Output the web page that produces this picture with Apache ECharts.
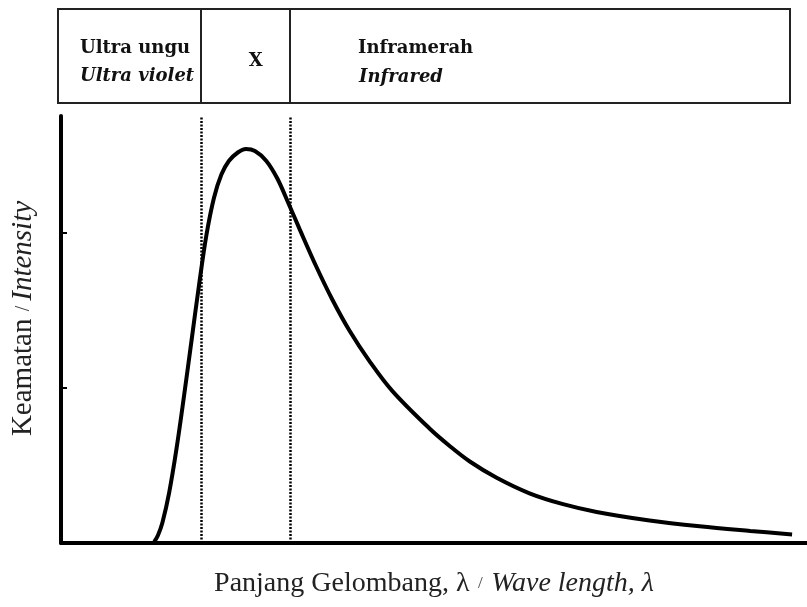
<!DOCTYPE html>
<html>
<head>
<meta charset="utf-8">
<script src="https://cdn.jsdelivr.net/npm/echarts@6/dist/echarts.min.js"></script>
<style>html,body{margin:0;padding:0;background:#fff}#c{width:807px;height:607px}</style>
</head>
<body>
<div id="c"></div>
<script>
// Wavelength (arbitrary units) and intensity (arbitrary units)
const wavelength = [125,130,136,145,155,165,175,185,195,205,215,225,237,248,260,275,290,306,320,342,364,387,413,444,494,521,548,584,628,673,718,789,856,924,980];
const intensity  = [0.3,2.0,5.3,13.0,24.5,38.0,52.2,66.4,79.4,88.9,94.9,98.4,100.6,101.5,101.0,98.5,93.9,87.0,80.8,71.3,62.6,54.6,47.0,39.2,29.5,25.0,21.0,16.8,12.8,10.0,8.0,5.8,4.3,3.1,2.2];
// Region boundaries (UV | X | IR)
const boundaries = [188, 307];
const yTicks = [40, 80];
const regionLabels = ['Ultra ungu', 'Ultra violet', 'X', 'Inframerah', 'Infrared'];

const chart = echarts.init(document.getElementById('c'), null, {renderer: 'canvas'});
const serif = 'DejaVu Serif';
const titleFont = 'Liberation Serif';

chart.setOption({
  animation: false,
  backgroundColor: '#fff',
  grid: {left: 61, right: 0, top: 116, bottom: 64, containLabel: false, outerBoundsMode: 'none'},
  xAxis: {
    type: 'value', min: 0, max: 1000,
    axisLine: {show: true, lineStyle: {color: '#000', width: 4}},
    axisTick: {show: false}, axisLabel: {show: false}, splitLine: {show: false},
    name: '{a|Panjang Gelombang, λ}{s|  /  }{b|Wave length, λ}',
    nameLocation: 'middle', nameGap: 27,
    nameTextStyle: {
      rich: {
        a: {fontFamily: titleFont, fontSize: 28, color: '#222'},
        s: {fontFamily: titleFont, fontSize: 17, color: '#444'},
        b: {fontFamily: titleFont, fontSize: 28, fontStyle: 'italic', color: '#222'}
      }
    }
  },
  yAxis: {
    type: 'value', min: 0, max: 110,
    axisLine: {show: true, lineStyle: {color: '#000', width: 4}},
    axisTick: {show: true, inside: true, length: 6, customValues: yTicks, lineStyle: {color: '#000', width: 2}},
    axisLabel: {show: false}, splitLine: {show: false},
    name: '{a|Keamatan }{s|/ }{b|Intensity}',
    nameLocation: 'middle', nameGap: 23, nameRotate: 90,
    nameTextStyle: {
      padding: [0, 0, 0, 22],
      rich: {
        a: {fontFamily: titleFont, fontSize: 29, color: '#222'},
        s: {fontFamily: titleFont, fontSize: 20, color: '#444'},
        b: {fontFamily: titleFont, fontSize: 29, fontStyle: 'italic', color: '#222'}
      }
    }
  },
  series: [{
    type: 'line',
    data: wavelength.map((w, i) => [w, intensity[i]]),
    smooth: 0.35,
    showSymbol: false,
    lineStyle: {color: '#000', width: 4},
    markLine: {
      silent: true, symbol: 'none',
      label: {show: false},
      lineStyle: {color: '#000', type: [2, 1.5], width: 2.5},
      data: boundaries.map(b => ({xAxis: b}))
    }
  }]
});

const bx = boundaries.map(b => chart.convertToPixel({xAxisIndex: 0}, b));
const boxTop = 9, boxBottom = 103, boxLeft = 58, boxRight = 790;
const lineStyle = {stroke: '#222', lineWidth: 2};
const boldText = (txt, x, y, italic, align) => ({
  type: 'text', x: x, y: y,
  style: {text: txt, fontFamily: serif, fontSize: 18, fontWeight: 'bold', fontStyle: italic ? 'italic' : 'normal', fill: '#111', verticalAlign: 'middle', align: align || 'left'}
});
chart.setOption({
  graphic: [
    {type: 'rect', shape: {x: boxLeft, y: boxTop, width: boxRight - boxLeft, height: boxBottom - boxTop}, style: {fill: 'none', stroke: '#222', lineWidth: 2}},
    {type: 'line', shape: {x1: Math.round(bx[0]), y1: boxTop, x2: Math.round(bx[0]), y2: boxBottom}, style: lineStyle},
    {type: 'line', shape: {x1: Math.round(bx[1]), y1: boxTop, x2: Math.round(bx[1]), y2: boxBottom}, style: lineStyle},
    boldText(regionLabels[0], 80, 48, false),
    boldText(regionLabels[1], 80, 76, true),
    boldText(regionLabels[2], (bx[0] + bx[1]) / 2 + 10, 61, false, 'center'),
    boldText(regionLabels[3], 358, 48, false),
    boldText(regionLabels[4], 359, 77, true)
  ]
});
</script>
</body>
</html>
